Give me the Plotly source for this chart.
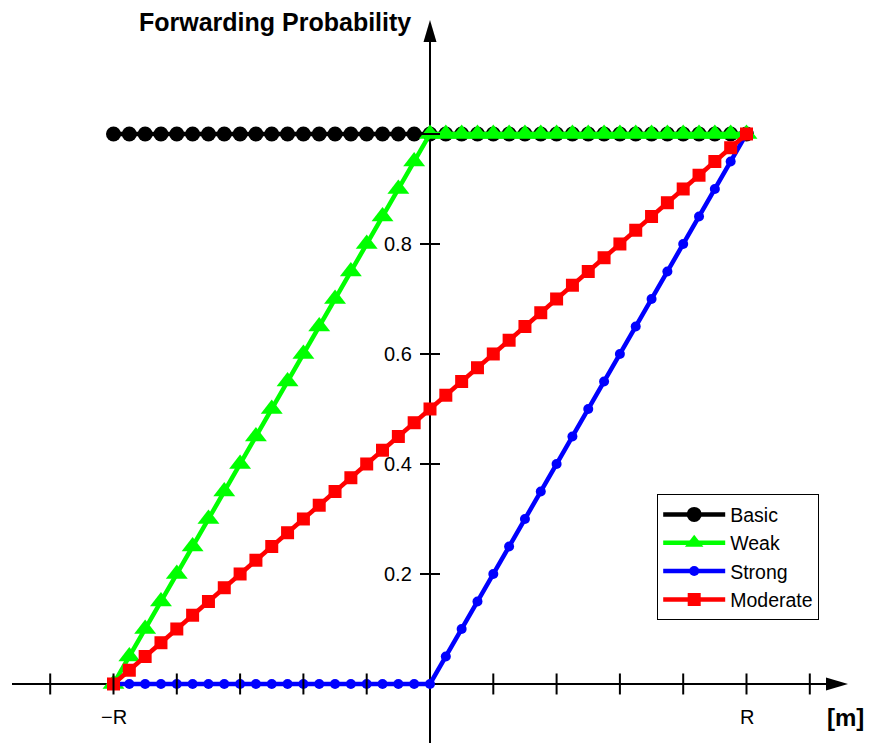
import plotly.graph_objects as go

# ---- data (x in units of R) ----
x_vals = [-1.0, -0.95, -0.9, -0.85, -0.8, -0.75, -0.7, -0.65, -0.6, -0.55, -0.5,
          -0.45, -0.4, -0.35, -0.3, -0.25, -0.2, -0.15, -0.1, -0.05, 0.0,
          0.05, 0.1, 0.15, 0.2, 0.25, 0.3, 0.35, 0.4, 0.45, 0.5,
          0.55, 0.6, 0.65, 0.7, 0.75, 0.8, 0.85, 0.9, 0.95, 1.0]

basic = [1.0] * 41
weak = [0.0, 0.05, 0.1, 0.15, 0.2, 0.25, 0.3, 0.35, 0.4, 0.45, 0.5,
        0.55, 0.6, 0.65, 0.7, 0.75, 0.8, 0.85, 0.9, 0.95, 1.0,
        1.0, 1.0, 1.0, 1.0, 1.0, 1.0, 1.0, 1.0, 1.0, 1.0,
        1.0, 1.0, 1.0, 1.0, 1.0, 1.0, 1.0, 1.0, 1.0, 1.0]
strong = [0.0, 0.0, 0.0, 0.0, 0.0, 0.0, 0.0, 0.0, 0.0, 0.0, 0.0,
          0.0, 0.0, 0.0, 0.0, 0.0, 0.0, 0.0, 0.0, 0.0, 0.0,
          0.05, 0.1, 0.15, 0.2, 0.25, 0.3, 0.35, 0.4, 0.45, 0.5,
          0.55, 0.6, 0.65, 0.7, 0.75, 0.8, 0.85, 0.9, 0.95, 1.0]
moderate = [0.0, 0.025, 0.05, 0.075, 0.1, 0.125, 0.15, 0.175, 0.2, 0.225, 0.25,
            0.275, 0.3, 0.325, 0.35, 0.375, 0.4, 0.425, 0.45, 0.475, 0.5,
            0.525, 0.55, 0.575, 0.6, 0.625, 0.65, 0.675, 0.7, 0.725, 0.75,
            0.775, 0.8, 0.825, 0.85, 0.875, 0.9, 0.925, 0.95, 0.975, 1.0]

x_ticks = [-1.2, -1.0, -0.8, -0.6, -0.4, -0.2, 0.2, 0.4, 0.6, 0.8, 1.0, 1.2]
x_tick_labels = {-1.0: "\u2212R", 1.0: "R"}
y_ticks = [0.2, 0.4, 0.6, 0.8, 1.0]
y_tick_labels = ["0.2", "0.4", "0.6", "0.8", ""]

FONT = "Liberation Sans, Arial, Helvetica, sans-serif"

fig = go.Figure()
fig.add_trace(go.Scatter(x=x_vals, y=basic, name="Basic", mode="lines+markers",
                         line=dict(color="#000000", width=4.5),
                         marker=dict(symbol="circle", size=15, color="#000000")))
fig.add_trace(go.Scatter(x=x_vals, y=weak, name="Weak", mode="lines+markers",
                         line=dict(color="#00ff00", width=4.5),
                         marker=dict(symbol="triangle-up", size=19, color="#00ff00")))
fig.add_trace(go.Scatter(x=x_vals, y=strong, name="Strong", mode="lines+markers",
                         line=dict(color="#0000ff", width=4.5),
                         marker=dict(symbol="circle", size=10, color="#0000ff")))
fig.add_trace(go.Scatter(x=x_vals, y=moderate, name="Moderate", mode="lines+markers",
                         line=dict(color="#ff0000", width=4.5),
                         marker=dict(symbol="square", size=13, color="#ff0000")))

shapes = []
X_MIN, X_TIP = -1.3207, 1.3207
Y_MIN, Y_TIP = -0.12, 1.2073
# x axis line (ends at arrow base)
shapes.append(dict(type="line", xref="x", yref="y", x0=X_MIN, x1=X_TIP - 21 / 316.5,
                   y0=0, y1=0, line=dict(color="black", width=2), layer="below"))
shapes.append(dict(type="path", xref="x", yref="y", xsizemode="pixel", ysizemode="pixel",
                   xanchor=X_TIP, yanchor=0, path="M 0 0 L -22 6.5 L -22 -6.5 Z",
                   fillcolor="black", line=dict(color="black", width=0)))
# y axis line
shapes.append(dict(type="line", xref="x", yref="y", x0=0, x1=0,
                   y0=Y_MIN, y1=Y_TIP - 21 / 550, line=dict(color="black", width=2), layer="below"))
shapes.append(dict(type="path", xref="x", yref="y", xsizemode="pixel", ysizemode="pixel",
                   xanchor=0, yanchor=Y_TIP, path="M 0 0 L -6.5 -22 L 6.5 -22 Z",
                   fillcolor="black", line=dict(color="black", width=0)))
for t in x_ticks:
    shapes.append(dict(type="line", xref="x", yref="y", ysizemode="pixel", yanchor=0,
                       x0=t, x1=t, y0=-10.5, y1=10.5, line=dict(color="black", width=2)))
for t in y_ticks:
    shapes.append(dict(type="line", xref="x", yref="y", xsizemode="pixel", xanchor=0,
                       y0=t, y1=t, x0=-10, x1=10, line=dict(color="black", width=2)))

annotations = []
for t, lab in x_tick_labels.items():
    annotations.append(dict(x=t, y=0, xref="x", yref="y", text=lab, showarrow=False,
                            xanchor="center", yanchor="middle", yshift=-33,
                            font=dict(family=FONT, size=20, color="black")))
for t, lab in zip(y_ticks, y_tick_labels):
    if lab:
        annotations.append(dict(x=0, y=t, xref="x", yref="y", text=lab, showarrow=False,
                                xanchor="right", yanchor="middle", xshift=-16,
                                font=dict(family=FONT, size=20, color="black")))
annotations.append(dict(x=0, y=1.2036, xref="x", yref="y", text="<b>Forwarding Probability</b>",
                        showarrow=False, xanchor="right", yanchor="middle", xshift=-17,
                        font=dict(family=FONT, size=25, color="black")))
annotations.append(dict(x=1, y=0, xref="paper", yref="y", text="<b>[m]</b>",
                        showarrow=False, xanchor="right", yanchor="middle", xshift=-4, yshift=-34,
                        font=dict(family=FONT, size=24, color="black")))

fig.update_layout(
    width=870, height=743,
    margin=dict(l=0, r=0, t=0, b=0),
    paper_bgcolor="white", plot_bgcolor="white",
    xaxis=dict(range=[-1.3586, 1.3902], visible=False),
    yaxis=dict(range=[-0.1073, 1.2436], visible=False),
    shapes=shapes, annotations=annotations,
    showlegend=True,
    legend=dict(x=657 / 870, y=1 - 494 / 743, xanchor="left", yanchor="top",
                bordercolor="black", borderwidth=1.2, bgcolor="white",
                font=dict(family=FONT, size=19.5, color="black"),
                tracegroupgap=0, itemwidth=62),
    font=dict(family=FONT),
)

fig.write_html("out.html")
